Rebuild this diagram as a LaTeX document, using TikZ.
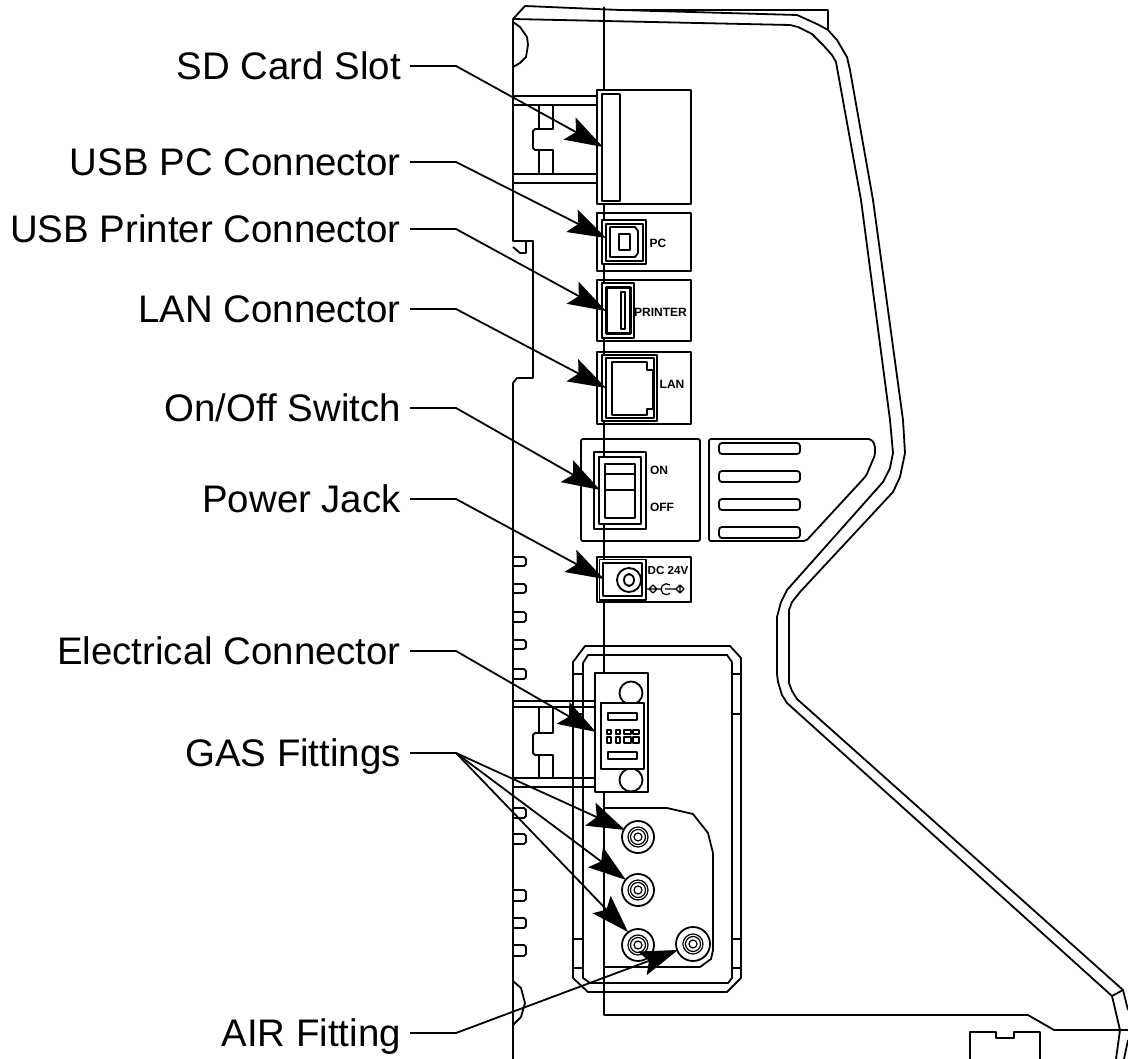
\documentclass[tikz,border=0pt]{standalone}
\usepackage{fontspec}
\setmainfont{Liberation Sans}
\usetikzlibrary{arrows.meta}
\tikzset{part/.style={draw,line width=1.8pt,line join=round},
  box/.style={part,fill=white},
  lbl/.style={draw=none,anchor=east,inner xsep=9pt,inner ysep=0pt,text height=27.5pt,text depth=0pt,font=\fontsize{38.4}{40}\selectfont},
  tag/.style={draw=none,inner sep=0pt,font=\fontsize{12}{12}\selectfont\bfseries},
  lead/.style={draw,line width=1.8pt,-{Stealth[length=38pt,width=25pt,inset=7pt]}}}

\begin{document}
\begin{tikzpicture}[x=1pt,y=-1pt]
\useasboundingbox (0,0) rectangle (1128,1059);
\path[fill=white] (0,0) rectangle (1128,1059);
\draw[part] (513,1059) -- (513,383) -- (517,378) -- (533,378) -- (533,241) -- (513,241) -- (513,19) -- (525,6) -- (620,10) -- (828,10) -- (828,30);
\draw[part] (513,247) -- (520,253) -- (526,253) -- (526,241);
\draw[part] (513,19) -- (790,25) -- (798,27) -- (812,34) -- (823,45) -- (832,55) -- (836,62) -- (861,200) -- (890,420) -- (893,453) -- (890,468) -- (883,482) -- (787,590) -- (781,602) -- (777,617) -- (777,674) -- (778,682) -- (782,695) -- (787,703) -- (1112,996) -- (1120,1030) -- (1116,1059);
\draw[part] (620,10) -- (797,15) -- (817,24) -- (828,30) -- (837,40) -- (847,57) -- (850,70) -- (873,200) -- (903,420) -- (905,453) -- (900,477) -- (893,492) -- (800,592) -- (792,602) -- (789,610) -- (789,683) -- (792,691) -- (797,699) -- (1123,990) -- (1128,1010);
\draw[part] (1112,996) -- (1123,990);
\draw[part] (1124,1059) -- (1128,1040);
\draw[part] (604,7) -- (604,1015) -- (1028,1015) -- (1054,1030) -- (1128,1030);
\draw[part] (970,1059) -- (970,1032) -- (996,1032) -- (996,1038) -- (1014,1038) -- (1014,1032) -- (1040,1032) -- (1040,1059);
\draw[part] (513,22) -- (520,27) -- (527,37) -- (528,45) -- (526,57) -- (520,63) -- (513,67);
\draw[part] (513,981) -- (521,988) -- (525,1003) -- (521,1017) -- (513,1025);
\foreach \ya/\yb/\yc/\yd/\ye/\yf in {96/105/129/150/174/183,701/707/733/755/778/787}{
  \draw[part] (513,\ya) -- (597,\ya) (513,\yb) -- (597,\yb) (513,\ye) -- (597,\ye) (513,\yf) -- (597,\yf);
  \draw[part] (539,\yb) -- (539,\yc) (553,\yb) -- (553,\yc) -- (535,\yc) -- (533,\yc+2) -- (533,\yd-2) -- (535,\yd) -- (553,\yd) -- (553,\ye) (539,\yd) -- (539,\ye);
}
\foreach \ya/\yb in {557/566,584/593,612/622,640/649,669/679,808/818,834/844,890/901,918/928,945/956}{
  \draw[part] (513,\ya) -- (524,\ya) -- (526,\ya+2) -- (526,\yb-2) -- (524,\yb) -- (513,\yb);
}
\draw[box] (597,90) rectangle (691,204);
\draw[box] (602,94) rectangle (620,201);
\draw[part] (597,213) rectangle (691,271);
\draw[box] (602,220) rectangle (646,264);
\draw[box] (606,224) rectangle (643,261);
\draw[box] (610,227) -- (635,227) -- (638,231) -- (638,253) -- (635,257) -- (610,257) -- cycle;
\draw[box] (619,234) rectangle (630,250);
\node[tag] (pc) at (658,243) {PC};
\draw[part] (597,280) rectangle (691,341);
\draw[box] (602,283) rectangle (634,338);
\draw[box,line width=2.8pt] (606.5,287.5) rectangle (630.5,333.5);
\draw[box] (621,292) rectangle (625,329);
\node[tag] (printer) at (660.5,312) {PRINTER};
\draw[part] (597,352) rectangle (691,424);
\draw[box] (602,355) rectangle (657,421);
\draw[box] (606,358) rectangle (654,418);
\draw[box] (612,362) -- (647,362) -- (647,370) -- (653,370) -- (653,409) -- (647,409) -- (647,415) -- (612,415) -- cycle;
\node[tag] (lan) at (672,384) {LAN};
\draw[part,rounded corners=2pt] (581,439) rectangle (700,541);
\draw[part] (594,452) rectangle (646,529);
\draw[box] (599,457) rectangle (641,524);
\draw[box] (605,464) rectangle (635,518);
\draw[part] (605,474) -- (635,474) (605,490) -- (635,490);
\node[tag] (on) at (659,470) {ON};
\node[tag] (off) at (662,507) {OFF};
\draw[part,rounded corners=2pt] (709,439) -- (871,439) -- (875,445) -- (875,455) -- (866,476) -- (806,541) -- (709,541) -- cycle;
\foreach \ya/\yb in {443/454,471/482,499/510,527/538}{
  \draw[part,rounded corners=3pt] (719,\ya) rectangle (800,\yb);
}
\draw[part] (597,557) rectangle (691,602);
\draw[box] (599.5,559.5) rectangle (646,600);
\draw[box] (603,563) rectangle (642,596);
\draw[part] (629,580) circle (12pt);
\draw[part] (629,580) ellipse (5pt and 6pt);
\node[tag,font=\fontsize{11.6}{12}\selectfont\bfseries] (dcv) at (668,571) {DC 24V};
\draw[part,line width=1.2pt] (649,589) -- (653,585) -- (657,589) -- (653,593) -- cycle (645,589) -- (661,589);
\draw[part,line width=1.2pt] (670,585) arc (50:310:5.5pt) (665,589) -- (676,589);
\draw[part,line width=1.2pt] (676,589) -- (680,585) -- (684,589) -- (680,593) -- cycle (680,585) -- (680,593);
\draw[part] (573,662) -- (585,646) -- (730,646) -- (741,658) -- (741,978) -- (727,992) -- (588,992) -- (573,978) -- cycle;
\draw[part] (583,663) -- (588,655) -- (727,655) -- (732,662) -- (732,978) -- (728,983) -- (590,983) -- (583,978) -- cycle;
\foreach \yy in {674,714,939,968}{
  \draw[part] (573,\yy) -- (583,\yy) (732,\yy) -- (741,\yy);
}
\draw[box] (595,673) rectangle (648,792);
\draw[box] (631,693) circle (11.5pt);
\draw[box] (631,780) circle (11.5pt);
\draw[box] (601,703) rectangle (644,769);
\draw[part] (608,713) rectangle (637,720) (608,752) rectangle (637,759);
\foreach \xa/\xb in {607/611,616/620,624/631,633/639}{
  \draw[part,line width=1.2pt] (\xa,730) rectangle (\xb,734) (\xa,737) rectangle (\xb,743);
}
\draw[part] (604,808) -- (667,808) -- (693,814) -- (708,833) -- (713,853) -- (713,950) -- (711,959) -- (700,967) -- (604,967);
\foreach \xx/\yy/\rr in {638/837/16,638/890/16,638/945/16,693/944/17}{
  \draw[box] (\xx,\yy) circle (\rr pt);
  \draw[part,line width=1.2pt] (\xx,\yy) circle (10pt);
  \draw[part,line width=1.2pt] (\xx,\yy) circle (7.5pt);
  \draw[part,line width=1.2pt] (\xx,\yy) circle (4pt);
}
\foreach \nm/\txt/\yy/\tx/\ty in {sd/SD Card Slot/66/603/147,usbpc/USB PC Connector/162/606/238,usbpr/USB Printer Connector/229/606/311,lanc/LAN Connector/309/606/388,sw/On{/}Off Switch/408/600/490,pow/Power Jack/499/604/579,elec/Electrical Connector/651/596/732,air/AIR Fitting/1033/678/950}{
  \node[lbl] (\nm) at (410,\yy) {\txt};
  \coordinate (\nm bend) at (456,\yy);
  \coordinate (\nm tip) at (\tx,\ty);
  \draw[lead] (\nm) -- (\nm bend) -- (\nm tip);
}
\node[lbl] (gas) at (410,753) {GAS Fittings};
\coordinate (gasbend) at (456,753);
\coordinate (gasa) at (625,830);
\coordinate (gasb) at (626,880);
\coordinate (gasc) at (628,932);
\draw[part] (gas) -- (gasbend);
\foreach \tip in {gasa,gasb,gasc}{
  \draw[lead] (gasbend) -- (\tip);
}
\end{tikzpicture}
\end{document}
